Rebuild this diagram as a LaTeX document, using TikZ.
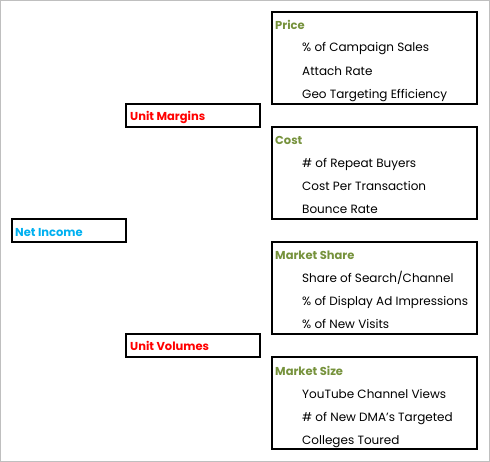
\documentclass[tikz,border=0pt]{standalone}
\usepackage{fontspec}
\setmainfont{Poppins}
\definecolor{olivet}{RGB}{118,146,60}
\definecolor{redt}{RGB}{255,0,0}
\definecolor{bluet}{RGB}{0,176,240}
\definecolor{frame}{RGB}{191,191,191}
\begin{document}
\begin{tikzpicture}[x=1pt,y=-1pt,
  box/.style={draw=black,line width=2pt,rectangle,inner sep=0pt},
  ttl/.style={anchor=base west,inner sep=0pt,font=\fontsize{11.5}{12}\selectfont\bfseries,text=olivet},
  itm/.style={anchor=base west,inner sep=0pt,font=\fontsize{12}{13}\selectfont,text=black},
  lvl/.style={anchor=base west,inner sep=0pt,font=\fontsize{11.5}{12}\selectfont\bfseries}]
\useasboundingbox (0,0) rectangle (490,462);
\draw[frame,line width=1pt] (0.5,0.5) rectangle (489.5,461.5);
% boxes
\node[box,minimum width=205pt,minimum height=92pt] (price) at (374.5,58) {};
\node[box,minimum width=205pt,minimum height=92pt] (cost) at (374.5,173) {};
\node[box,minimum width=205pt,minimum height=92pt] (share) at (374.5,288) {};
\node[box,minimum width=205pt,minimum height=92pt] (size) at (374.5,403) {};
\node[box,minimum width=134pt,minimum height=23pt] (margins) at (193,115.5) {};
\node[box,minimum width=134pt,minimum height=23pt] (volumes) at (193,345.5) {};
\node[box,minimum width=114pt,minimum height=23pt] (net) at (69,230.5) {};
% labels
\node[lvl,text=bluet] (netT) at (15,237) {Net Income};
\node[lvl,text=redt] (marT) at (130,121) {Unit Margins};
\node[lvl,text=redt] (volT) at (130,351) {Unit Volumes};
\node[ttl] (priceT) at (275,30) {Price};
\node[itm] (p1) at (302,52) {\% of Campaign Sales};
\node[itm] (p2) at (302,76) {Attach Rate};
\node[itm] (p3) at (302,99) {Geo Targeting Efficiency};
\node[ttl] (costT) at (275,145) {Cost};
\node[itm] (c1) at (302,168) {\# of Repeat Buyers};
\node[itm] (c2) at (302,191) {Cost Per Transaction};
\node[itm] (c3) at (302,214) {Bounce Rate};
\node[ttl] (shareT) at (275,260) {Market Share};
\node[itm] (s1) at (302,283) {Share of Search/Channel};
\node[itm] (s2) at (302,306) {\% of Display Ad Impressions};
\node[itm] (s3) at (302,329) {\% of New Visits};
\node[ttl] (sizeT) at (275,375) {Market Size};
\node[itm] (z1) at (302,398) {YouTube Channel Views};
\node[itm] (z2) at (302,421) {\# of New DMA’s Targeted};
\node[itm] (z3) at (302,444) {Colleges Toured};
\end{tikzpicture}
\end{document}
